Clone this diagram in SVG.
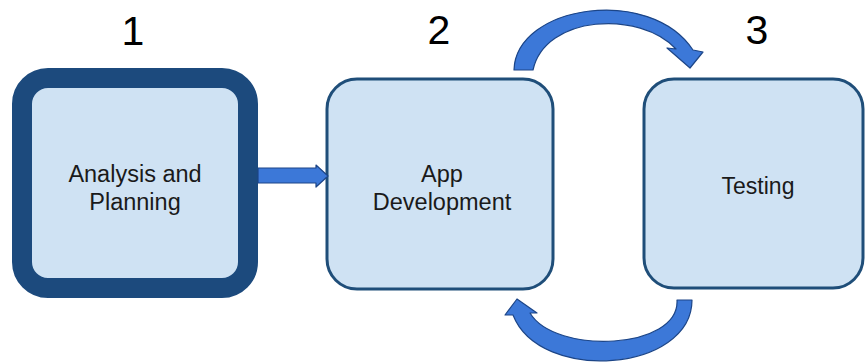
<svg xmlns="http://www.w3.org/2000/svg" width="865" height="362" viewBox="0 0 865 362">
<style>
.box{fill:#cfe2f3;stroke:#1f4e79;stroke-width:3}
.lbl{font-family:"Liberation Sans",Arial,sans-serif;font-size:23.5px;fill:#1a1a1a;text-anchor:middle}
.num{font-family:"Liberation Sans",Arial,sans-serif;font-size:41px;fill:#000;text-anchor:middle}
.arr{fill:#3c78d8;stroke:#1c4587;stroke-width:1.2;stroke-linejoin:round}
</style>
<rect width="865" height="362" fill="#ffffff"/>
<text class="num" x="133" y="45">1</text>
<text class="num" x="439" y="44">2</text>
<text class="num" x="757" y="44">3</text>
<g id="node1">
<rect x="22" y="78" width="226" height="210" rx="26" ry="26" fill="#cfe2f3" stroke="#1c4a7d" stroke-width="20"/>
<text class="lbl" x="135" y="182">Analysis and</text>
<text class="lbl" x="135" y="210">Planning</text>
</g>
<g id="node2">
<rect class="box" x="327" y="79" width="226" height="210" rx="30" ry="30"/>
<text class="lbl" x="442" y="182">App</text>
<text class="lbl" x="442" y="210">Development</text>
</g>
<g id="node3">
<rect class="box" x="644" y="79" width="219" height="209" rx="30" ry="30"/>
<text class="lbl" x="758" y="194" style="font-size:23px">Testing</text>
</g>
<g id="connectors">
<path class="arr" d="M258 168 L316 168 L316 165 L328 176 L316 187 L316 183 L258 183 Z"/>
<path class="arr" d="M514 70 C516 5 650 -15 693 50 L703 52 L690 68 L667 48 L676 49 C640 10 545 15 533 70 Z"/>
<path class="arr" d="M692 300 C692 372 540 384 513 315 L505 315 L517 299 L537 313 L530 313 C555 355 680 350 677 300 Z"/>
</g>
</svg>
